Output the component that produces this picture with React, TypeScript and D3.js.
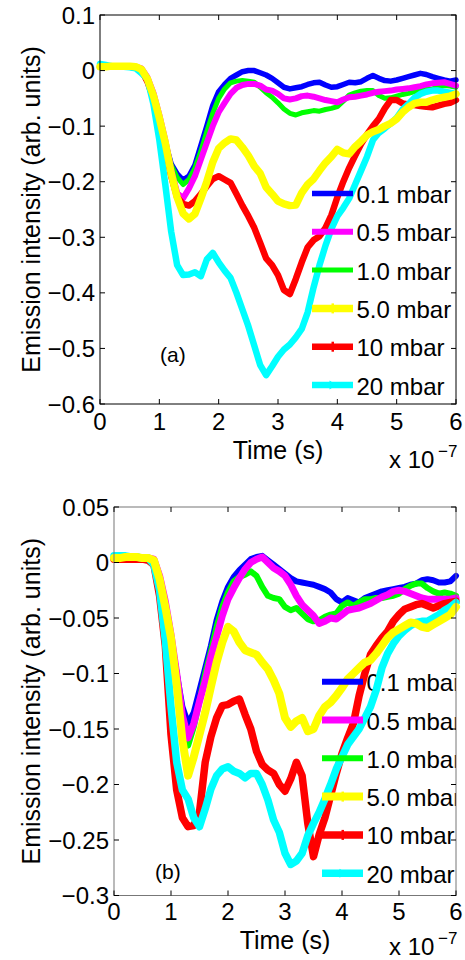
import React from "react";
import * as d3 from "d3";

// time grid, units of 1e-7 s
const time = d3.range(0, 61).map((i) => i / 10);

const legendLabels = ["0.1 mbar", "0.5 mbar", "1.0 mbar", "5.0 mbar", "10 mbar", "20 mbar"];
const colors = ["#0000ff", "#ff00ff", "#00ff00", "#ffff00", "#ff0000", "#00ffff"];
const drawOrder = [0, 2, 1, 4, 5, 3];

const xTicks = [0, 1, 2, 3, 4, 5, 6];
const xTickLabels = ["0", "1", "2", "3", "4", "5", "6"];

const yTicksA = [0.1, 0, -0.1, -0.2, -0.3, -0.4, -0.5, -0.6];
const yTickLabelsA = ["0.1", "0", "\u22120.1", "\u22120.2", "\u22120.3", "\u22120.4", "\u22120.5", "\u22120.6"];
const yTicksB = [0.05, 0, -0.05, -0.1, -0.15, -0.2, -0.25, -0.3];
const yTickLabelsB = ["0.05", "0", "\u22120.05", "\u22120.1", "\u22120.15", "\u22120.2", "\u22120.25", "\u22120.3"];

// panel (a)
const a01 = [0.007, 0.007, 0.008, 0.008, 0.008, 0.007, 0.006, 0.0, -0.018, -0.047,
  -0.085, -0.13, -0.168, -0.186, -0.197, -0.19, -0.17, -0.135, -0.1, -0.063,
  -0.038, -0.025, -0.014, -0.008, -0.002, 0.0, 0.0, -0.004, -0.008, -0.014,
  -0.022, -0.03, -0.033, -0.031, -0.029, -0.025, -0.022, -0.021, -0.026, -0.03,
  -0.029, -0.025, -0.021, -0.022, -0.02, -0.014, -0.009, -0.014, -0.018, -0.019,
  -0.017, -0.014, -0.011, -0.008, -0.005, -0.007, -0.011, -0.014, -0.017, -0.019, -0.017];
const a05 = [0.007, 0.007, 0.008, 0.008, 0.008, 0.008, 0.007, 0.004, -0.012, -0.04,
  -0.08, -0.125, -0.178, -0.22, -0.23, -0.212, -0.19, -0.16, -0.13, -0.1,
  -0.075, -0.058, -0.042, -0.031, -0.026, -0.024, -0.024, -0.027, -0.034, -0.036,
  -0.042, -0.05, -0.052, -0.05, -0.046, -0.045, -0.047, -0.05, -0.053, -0.055,
  -0.057, -0.052, -0.048, -0.047, -0.045, -0.043, -0.04, -0.038, -0.037, -0.036,
  -0.034, -0.033, -0.032, -0.03, -0.028, -0.025, -0.023, -0.022, -0.021, -0.024, -0.027];
const a10 = [0.007, 0.007, 0.008, 0.008, 0.008, 0.007, 0.006, 0.0, -0.018, -0.047,
  -0.085, -0.13, -0.17, -0.192, -0.205, -0.196, -0.175, -0.145, -0.11, -0.077,
  -0.05, -0.033, -0.022, -0.019, -0.018, -0.019, -0.021, -0.03, -0.04, -0.048,
  -0.058, -0.069, -0.077, -0.08, -0.076, -0.074, -0.072, -0.073, -0.07, -0.068,
  -0.065, -0.055, -0.044, -0.04, -0.037, -0.036, -0.036, -0.045, -0.05, -0.049,
  -0.046, -0.043, -0.041, -0.038, -0.036, -0.034, -0.033, -0.03, -0.027, -0.028, -0.03];
const a50 = [0.007, 0.007, 0.008, 0.008, 0.008, 0.008, 0.007, 0.002, -0.015, -0.045,
  -0.085, -0.13, -0.185, -0.228, -0.257, -0.267, -0.258, -0.23, -0.2, -0.165,
  -0.14, -0.13, -0.123, -0.125, -0.138, -0.153, -0.172, -0.185, -0.21, -0.222,
  -0.235, -0.24, -0.243, -0.242, -0.22, -0.205, -0.195, -0.18, -0.166, -0.155,
  -0.142, -0.148, -0.15, -0.137, -0.127, -0.116, -0.11, -0.106, -0.1, -0.095,
  -0.087, -0.075, -0.066, -0.059, -0.057, -0.057, -0.053, -0.05, -0.048, -0.046, -0.042];
const a100 = [0.007, 0.007, 0.008, 0.008, 0.008, 0.007, 0.006, 0.0, -0.02, -0.05,
  -0.09, -0.14, -0.19, -0.228, -0.24, -0.243, -0.235, -0.222, -0.208, -0.195,
  -0.19, -0.196, -0.202, -0.222, -0.243, -0.262, -0.283, -0.31, -0.338, -0.35,
  -0.368, -0.395, -0.402, -0.375, -0.345, -0.318, -0.305, -0.298, -0.283, -0.26,
  -0.228, -0.2, -0.175, -0.153, -0.132, -0.115, -0.1, -0.087, -0.068, -0.053,
  -0.053, -0.059, -0.061, -0.062, -0.064, -0.065, -0.066, -0.063, -0.06, -0.058, -0.053];
const a200 = [0.012, 0.01, 0.008, 0.007, 0.007, 0.006, 0.004, -0.005, -0.015, -0.06,
  -0.125, -0.205, -0.29, -0.35, -0.368, -0.367, -0.363, -0.37, -0.34, -0.328,
  -0.345, -0.36, -0.373, -0.4, -0.43, -0.46, -0.495, -0.53, -0.548, -0.532,
  -0.515, -0.502, -0.493, -0.48, -0.465, -0.435, -0.39, -0.35, -0.315, -0.285,
  -0.262, -0.247, -0.23, -0.205, -0.18, -0.155, -0.125, -0.112, -0.104, -0.095,
  -0.085, -0.07, -0.06, -0.049, -0.042, -0.038, -0.036, -0.036, -0.038, -0.04, -0.042];

// panel (b)
const b01 = [0.004, 0.004, 0.005, 0.005, 0.005, 0.004, 0.004, 0.002, -0.015, -0.04,
  -0.068, -0.1, -0.13, -0.145, -0.135, -0.115, -0.095, -0.075, -0.052, -0.035,
  -0.022, -0.013, -0.007, -0.002, 0.003, 0.005, 0.006, 0.002, -0.002, -0.006,
  -0.01, -0.014, -0.017, -0.018, -0.019, -0.02, -0.022, -0.024, -0.027, -0.033,
  -0.036, -0.032, -0.034, -0.036, -0.032, -0.03, -0.028, -0.026, -0.025, -0.024,
  -0.023, -0.022, -0.02, -0.019, -0.016, -0.015, -0.016, -0.018, -0.018, -0.017, -0.012];
const b05 = [0.004, 0.004, 0.005, 0.005, 0.005, 0.004, 0.004, 0.003, -0.012, -0.035,
  -0.065, -0.1, -0.138, -0.158, -0.145, -0.125, -0.107, -0.085, -0.067, -0.048,
  -0.033, -0.023, -0.014, -0.006, 0.0, 0.003, 0.005, 0.0, -0.005, -0.008,
  -0.012, -0.02, -0.03, -0.038, -0.043, -0.048, -0.055, -0.053, -0.05, -0.051,
  -0.047, -0.043, -0.042, -0.041, -0.039, -0.037, -0.034, -0.031, -0.029, -0.026,
  -0.025, -0.026, -0.028, -0.03, -0.032, -0.033, -0.033, -0.033, -0.033, -0.033, -0.032];
const b10 = [0.004, 0.004, 0.005, 0.005, 0.005, 0.004, 0.004, 0.002, -0.015, -0.04,
  -0.068, -0.1, -0.14, -0.165, -0.148, -0.125, -0.1, -0.08, -0.058, -0.04,
  -0.027, -0.017, -0.013, -0.011, -0.008, -0.012, -0.022, -0.03, -0.032, -0.033,
  -0.04, -0.043, -0.041, -0.046, -0.051, -0.053, -0.052, -0.049, -0.047, -0.046,
  -0.039, -0.036, -0.039, -0.036, -0.033, -0.033, -0.032, -0.032, -0.031, -0.03,
  -0.028, -0.024, -0.021, -0.019, -0.019, -0.023, -0.026, -0.028, -0.027, -0.028, -0.03];
const b50 = [0.004, 0.004, 0.005, 0.005, 0.005, 0.004, 0.004, 0.002, -0.015, -0.04,
  -0.068, -0.11, -0.16, -0.192, -0.175, -0.155, -0.135, -0.112, -0.09, -0.072,
  -0.058, -0.062, -0.072, -0.079, -0.081, -0.083, -0.09, -0.096, -0.106, -0.118,
  -0.14, -0.148, -0.143, -0.14, -0.152, -0.15, -0.138, -0.13, -0.126, -0.12,
  -0.113, -0.105, -0.1, -0.095, -0.09, -0.088, -0.082, -0.075, -0.068, -0.063,
  -0.06, -0.057, -0.054, -0.055, -0.058, -0.059, -0.056, -0.053, -0.05, -0.047, -0.04];
const b100 = [0.003, 0.003, 0.003, 0.003, 0.003, 0.003, 0.002, -0.002, -0.03, -0.075,
  -0.155, -0.205, -0.23, -0.238, -0.237, -0.225, -0.18, -0.157, -0.14, -0.129,
  -0.128, -0.125, -0.123, -0.137, -0.15, -0.17, -0.182, -0.187, -0.19, -0.2,
  -0.206, -0.195, -0.18, -0.192, -0.235, -0.265, -0.245, -0.23, -0.21, -0.19,
  -0.172, -0.158, -0.145, -0.12, -0.1, -0.083, -0.075, -0.068, -0.062, -0.053,
  -0.047, -0.042, -0.04, -0.038, -0.037, -0.039, -0.041, -0.039, -0.037, -0.036, -0.035];
const b200 = [0.006, 0.006, 0.006, 0.005, 0.005, 0.004, 0.004, -0.002, -0.025, -0.07,
  -0.13, -0.18, -0.205, -0.213, -0.23, -0.238, -0.222, -0.204, -0.192, -0.186,
  -0.184, -0.188, -0.19, -0.194, -0.19, -0.19, -0.2, -0.214, -0.232, -0.243,
  -0.262, -0.272, -0.269, -0.262, -0.246, -0.235, -0.225, -0.213, -0.2, -0.186,
  -0.175, -0.164, -0.157, -0.15, -0.14, -0.13, -0.115, -0.095, -0.082, -0.073,
  -0.066, -0.061, -0.057, -0.054, -0.053, -0.053, -0.05, -0.047, -0.043, -0.04, -0.036];

const seriesA = [a01, a05, a10, a50, a100, a200];
const seriesB = [b01, b05, b10, b50, b100, b200];

const font = "'Liberation Sans', Arial, Helvetica, sans-serif";

function LegendMarker({ k, cx, cy, color }: { k: number; cx: number; cy: number; color: string }) {
  if (k === 5) return <path d={`M${cx - 3},${cy - 4.5} L${cx + 4},${cy} L${cx - 3},${cy + 4.5} Z`} fill={color} />;
  if (k === 4 || k === 3) return <rect x={cx - 1} y={cy - 5} width={2.5} height={10} fill={color} />;
  return null;
}

function Panel(props: {
  id: string;
  left: number; right: number; top: number; bottom: number;
  yMin: number; yMax: number;
  yTicks: number[]; yTickLabels: string[];
  series: number[][]; widths: number[];
  tag: string; tagX: number; tagY: number;
  border: string;
  legX: number; legY: number;
  xLabelY: number; tickLabelY: number; expY: number;
}) {
  const { left, right, top, bottom } = props;
  const x = d3.scaleLinear().domain([0, 6]).range([left, right]);
  const y = d3.scaleLinear().domain([props.yMin, props.yMax]).range([bottom, top]);
  const line = d3.line<number>().x((_, i) => x(time[i])).y((d) => y(d));
  const tl = 5;
  const step = 38.3;
  const clipId = "clip-" + props.id;

  return (
    <g fontFamily={font} fill="#000">
      <defs>
        <clipPath id={clipId}>
          <rect x={left} y={top} width={right - left} height={bottom - top} />
        </clipPath>
      </defs>
      {/* legend text sits under the data */}
      <g clipPath={`url(#${clipId})`} fontSize={24}>
        {legendLabels.map((lab, k) => (
          <text key={k} x={props.legX + 44.5} y={props.legY + k * step + 9.5}>{lab}</text>
        ))}
      </g>
      {drawOrder.map((k) => (
        <path key={k} d={line(props.series[k]) || ""} fill="none" stroke={colors[k]}
          strokeWidth={props.widths[k]} strokeLinejoin="round" strokeLinecap="round" />
      ))}
      {legendLabels.map((lab, k) => {
        const cy = props.legY + k * step;
        return (
          <g key={k}>
            <line x1={props.legX} x2={props.legX + 41} y1={cy} y2={cy} stroke={colors[k]} strokeWidth={props.widths[k]} />
            <LegendMarker k={k} cx={props.legX + 20.5} cy={cy} color={colors[k]} />
          </g>
        );
      })}
      <rect x={left} y={top} width={right - left} height={bottom - top} fill="none" stroke={props.border} strokeWidth={1} />
      {xTicks.map((t, i) => (
        <g key={i}>
          <line x1={x(t)} x2={x(t)} y1={bottom} y2={bottom - tl} stroke="#000" />
          <line x1={x(t)} x2={x(t)} y1={top} y2={top + tl} stroke="#000" />
          <text x={x(t)} y={props.tickLabelY} fontSize={24} textAnchor="middle">{xTickLabels[i]}</text>
        </g>
      ))}
      {props.yTicks.map((v, i) => (
        <g key={i}>
          <line x1={left} x2={left + tl} y1={y(v)} y2={y(v)} stroke="#000" />
          <line x1={right} x2={right - tl} y1={y(v)} y2={y(v)} stroke="#000" />
          <text x={left - 5} y={y(v) + 8.5} fontSize={24} textAnchor="end">{props.yTickLabels[i]}</text>
        </g>
      ))}
      <text x={(left + right) / 2} y={props.xLabelY} fontSize={25} textAnchor="middle">Time (s)</text>
      <text transform={`translate(40,${(top + bottom) / 2}) rotate(-90)`} fontSize={25} textAnchor="middle">
        Emission intensity (arb. units)
      </text>
      <text x={389} y={props.expY} fontSize={24}>x 10</text>
      <text x={438} y={props.expY - 11} fontSize={17}>{"\u22127"}</text>
      <text x={props.tagX} y={props.tagY} fontSize={21}>{props.tag}</text>
    </g>
  );
}

export default function App() {
  return (
    <svg width={465} height={960} style={{ position: "absolute", left: 0, top: 0, background: "#fff" }}>
      <rect width={465} height={960} fill="#fff" />
      <Panel id="a" left={100} right={456} top={15} bottom={404} yMin={-0.6} yMax={0.1}
        yTicks={yTicksA} yTickLabels={yTickLabelsA} series={seriesA}
        widths={[5.5, 6, 5, 7.5, 6.5, 6.5]} tag="(a)" tagX={160} tagY={362} border="#000"
        legX={312} legY={193.5} xLabelY={459} tickLabelY={430} expY={468} />
      <Panel id="b" left={114} right={456} top={507} bottom={895.5} yMin={-0.3} yMax={0.05}
        yTicks={yTicksB} yTickLabels={yTickLabelsB} series={seriesB}
        widths={[6, 7, 6, 8, 7.5, 7.5]} tag="(b)" tagX={155} tagY={879} border="#777"
        legX={322} legY={681.7} xLabelY={949} tickLabelY={920} expY={955} />
    </svg>
  );
}
